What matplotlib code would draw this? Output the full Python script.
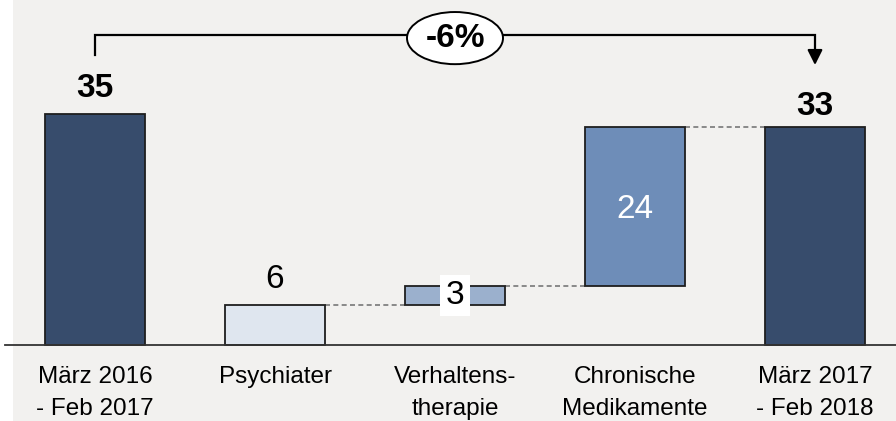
import matplotlib.pyplot as plt
from matplotlib.patches import Ellipse, Rectangle

# data
labels = ['März 2016\n- Feb 2017', 'Psychiater', 'Verhaltens-\ntherapie',
          'Chronische\nMedikamente', 'März 2017\n- Feb 2018']
start_value = 35
end_value = 33
deltas = [6, 3, 24]
change_label = '-6%'

colors = ['#374c6c', '#dfe6ef', '#9bb0cd', '#6e8db8', '#374c6c']
bg = '#f2f1ef'

plt.rcParams['font.family'] = ['Liberation Sans', 'DejaVu Sans']

fig = plt.figure(figsize=(8.96, 4.21), dpi=100)
fig.patch.set_facecolor('white')
fig.patches.append(Rectangle((13 / 896, 0), 1, 1, transform=fig.transFigure,
                             facecolor=bg, edgecolor='none', zorder=-10))
ax = fig.add_axes([0, 0, 1, 1])
ax.set_facecolor('none')
px_x = 180.0   # pixels per category
px_y = 6.6     # pixels per unit
ax.set_xlim(-95 / px_x, (896 - 95) / px_x)
ax.set_ylim(-76 / px_y, 345 / px_y)
ax.axis('off')

# bars
bottoms = [0]
heights = [start_value]
level = 0
for d in deltas:
    bottoms.append(level)
    heights.append(d)
    level += d
bottoms.append(0)
heights.append(end_value)
xs = list(range(len(labels)))
w = 100 / px_x
ax.bar(xs, heights, bottom=bottoms, width=w, color=colors,
       edgecolor='#1e1e1e', linewidth=1.3, zorder=3)

# baseline
ax.plot([-90 / px_x, 4.45], [0, 0], color='#333333', lw=1.3, zorder=4)

# connectors
for i in range(1, 4):
    top = bottoms[i] + heights[i]
    ax.plot([xs[i] + w / 2, xs[i + 1] - w / 2], [top, top], ls=(0, (3, 2)),
            color='#777777', lw=1.2, zorder=2)

# value labels
fs = 24
ax.text(xs[0], start_value + 2.6, str(start_value), ha='center', va='baseline',
        fontsize=fs, fontweight='bold')
ax.text(xs[4], end_value + 1.8, str(end_value), ha='center', va='baseline',
        fontsize=fs, fontweight='bold')
ax.text(xs[1], deltas[0] + 2.6, str(deltas[0]), ha='center', va='baseline', fontsize=fs)
ax.text(xs[2], bottoms[2] + heights[2] / 2, str(deltas[1]), ha='center', va='center',
        fontsize=fs, zorder=5,
        bbox=dict(boxstyle='square,pad=0.16', facecolor='white', edgecolor='none'))
ax.text(xs[3], bottoms[3] + heights[3] / 2 - 1.8, str(deltas[2]), ha='center',
        va='baseline', fontsize=fs, color='white', zorder=5)

# category labels, one text per line
for x, lab in zip(xs, labels):
    for k, line in enumerate(lab.split('\n')):
        ax.text(x, -5.76 - k * 4.85, line, ha='center', va='baseline', fontsize=17.5)

# bracket with change
yb = 47.0
ax.plot([xs[0], xs[0], xs[4], xs[4]], [43.9, yb, yb, 44.5], color='black', lw=1.6,
        zorder=3, solid_joinstyle='miter')
ax.annotate('', xy=(xs[4], 42.0), xytext=(xs[4], 44.6),
            arrowprops=dict(arrowstyle='-|>,head_length=0.9,head_width=0.45',
                            color='black', lw=1.6), zorder=3)
ax.add_patch(Ellipse((xs[2], 46.5), 96 / px_x, 7.9, facecolor='white',
                     edgecolor='black', lw=1.4, zorder=4))
ax.text(xs[2], 45.2, change_label, ha='center', va='baseline', fontsize=fs,
        fontweight='bold', zorder=5)

fig.savefig('out.png', dpi=100, facecolor=fig.get_facecolor())
